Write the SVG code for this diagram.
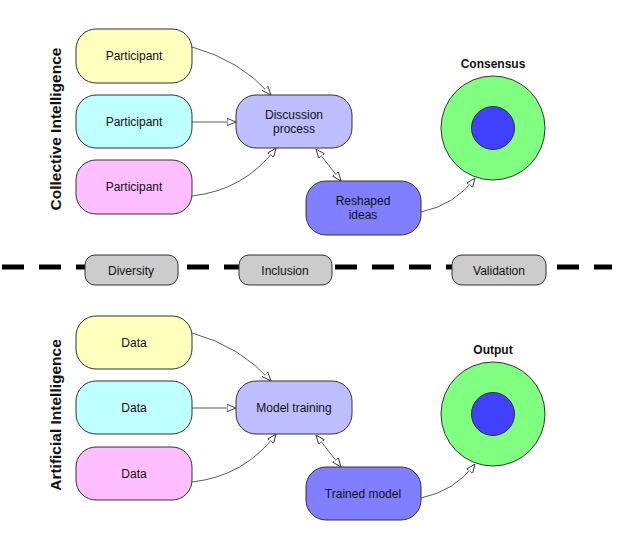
<svg xmlns="http://www.w3.org/2000/svg" width="620" height="538" viewBox="0 0 620 538">
<style>
text{font-family:"Helvetica","Liberation Sans",Arial,sans-serif;font-size:12px;fill:#111;text-anchor:middle}
.b{stroke:#333;stroke-width:1}
.t{font-weight:bold;font-size:12px}
.s{font-weight:bold;font-size:15.5px}
.c{fill:none;stroke:#333;stroke-width:0.8}
</style>
<defs>
<marker id="a" viewBox="0 0 10 10" refX="10" refY="5" markerWidth="9" markerHeight="9" orient="auto-start-reverse" markerUnits="userSpaceOnUse"><path d="M0,1 L10,5 L0,9 Z" fill="#fff" stroke="#333" stroke-width="1"/></marker>
</defs>
<rect width="620" height="538" fill="#fff"/>
<text class="s" transform="translate(61,129) rotate(-90)">Collective Intelligence</text>
<text class="s" transform="translate(61,415) rotate(-90)">Artificial Intelligence</text>
<g id="connectors">
<path class="c" d="M192,47 Q240,60 271,95" marker-end="url(#a)"/>
<path class="c" d="M192,122 L236,122" marker-end="url(#a)"/>
<path class="c" d="M192,196 Q245,190 276,148" marker-end="url(#a)"/>
<path class="c" d="M316,149 L341,181" marker-start="url(#a)" marker-end="url(#a)"/>
<path class="c" d="M421,212 Q455,205 475,178" marker-end="url(#a)"/>
<path class="c" d="M192,333 Q240,346 271,381" marker-end="url(#a)"/>
<path class="c" d="M192,408 L236,408" marker-end="url(#a)"/>
<path class="c" d="M192,482 Q245,476 276,434" marker-end="url(#a)"/>
<path class="c" d="M316,435 L341,467" marker-start="url(#a)" marker-end="url(#a)"/>
<path class="c" d="M421,498 Q455,491 475,464" marker-end="url(#a)"/>
<line x1="2" y1="267" x2="612" y2="267" stroke="#000" stroke-width="5" stroke-dasharray="22,15"/>
</g>
<g id="p1"><rect class="b" x="76" y="29" width="116" height="54" rx="20" fill="#ffffbe"/><text x="134" y="60">Participant</text></g>
<g id="p2"><rect class="b" x="76" y="95" width="116" height="53" rx="20" fill="#beffff"/><text x="134" y="126">Participant</text></g>
<g id="p3"><rect class="b" x="76" y="160" width="116" height="54" rx="20" fill="#ffbeff"/><text x="134" y="191">Participant</text></g>
<g id="disc"><rect class="b" x="236" y="95" width="116" height="53" rx="20" fill="#bebeff"/><text x="294" y="119">Discussion</text><text x="294" y="133">process</text></g>
<g id="resh"><rect class="b" x="306" y="181" width="115" height="54" rx="20" fill="#7f7fff"/><text x="363" y="205">Reshaped</text><text x="363" y="219">ideas</text></g>
<g id="cons"><text class="t" x="493" y="68">Consensus</text><circle class="b" cx="493" cy="128" r="52" fill="#80ff80"/><circle class="b" cx="493" cy="128" r="21.5" fill="#4040ff"/></g>
<g id="div"><rect class="b" x="85" y="255" width="93" height="30" rx="10" fill="#cccccc"/><text x="131" y="275">Diversity</text></g>
<g id="inc"><rect class="b" x="239" y="255" width="93" height="30" rx="10" fill="#cccccc"/><text x="285" y="275">Inclusion</text></g>
<g id="val"><rect class="b" x="452" y="255" width="94" height="30" rx="10" fill="#cccccc"/><text x="499" y="275">Validation</text></g>
<g id="d1"><rect class="b" x="76" y="316" width="116" height="53" rx="20" fill="#ffffbe"/><text x="134" y="347">Data</text></g>
<g id="d2"><rect class="b" x="76" y="381" width="116" height="53" rx="20" fill="#beffff"/><text x="134" y="412">Data</text></g>
<g id="d3"><rect class="b" x="76" y="447" width="116" height="53" rx="20" fill="#ffbeff"/><text x="134" y="478">Data</text></g>
<g id="mt"><rect class="b" x="236" y="381" width="116" height="53" rx="20" fill="#bebeff"/><text x="294" y="412">Model training</text></g>
<g id="tm"><rect class="b" x="306" y="467" width="115" height="53" rx="20" fill="#7f7fff"/><text x="363" y="498">Trained model</text></g>
<g id="out"><text class="t" x="493" y="354">Output</text><circle class="b" cx="493" cy="414" r="52" fill="#80ff80"/><circle class="b" cx="493" cy="414" r="21.5" fill="#4040ff"/></g>
</svg>
